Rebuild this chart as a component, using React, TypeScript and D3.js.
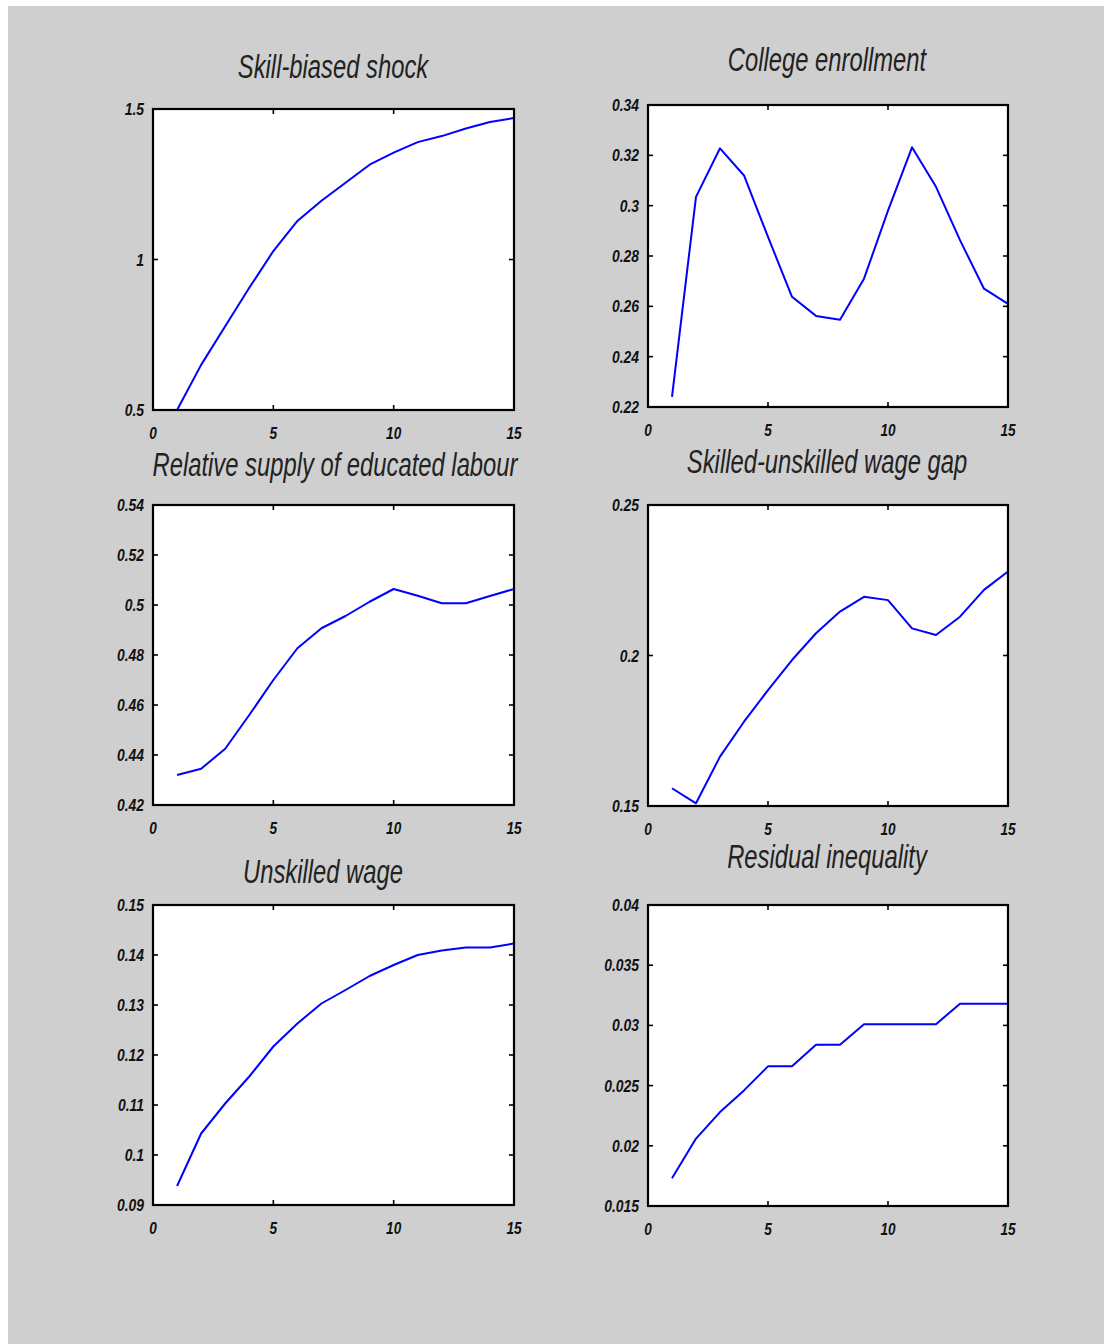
import React from "react";
import * as d3 from "d3";

const periods = [1, 2, 3, 4, 5, 6, 7, 8, 9, 10, 11, 12, 13, 14, 15];
const xTicks = [0, 5, 10, 15];

const skillShock = [0.5, 0.65, 0.778, 0.906, 1.028, 1.128, 1.195, 1.255, 1.315, 1.355, 1.39, 1.41, 1.435, 1.457, 1.47];
const collegeEnrollment = [0.224, 0.3035, 0.3228, 0.312, 0.2876, 0.2638, 0.2562, 0.2547, 0.271, 0.298, 0.3232, 0.3075, 0.2863, 0.267, 0.261];
const relativeSupply = [0.432, 0.4345, 0.4425, 0.456, 0.47, 0.4827, 0.4907, 0.4956, 0.5013, 0.5064, 0.5037, 0.5007, 0.5007, 0.5036, 0.5064];
const wageGap = [0.1559, 0.1509, 0.1664, 0.178, 0.1885, 0.1985, 0.2074, 0.2146, 0.2195, 0.2184, 0.209, 0.2068, 0.2129, 0.2218, 0.2279];
const unskilledWage = [0.0938, 0.1043, 0.1103, 0.1157, 0.1217, 0.1263, 0.1303, 0.133, 0.1358, 0.138, 0.14, 0.1409, 0.1415, 0.1415, 0.1423];
const residualInequality = [0.0173, 0.0206, 0.0228, 0.0246, 0.0266, 0.0266, 0.0284, 0.0284, 0.0301, 0.0301, 0.0301, 0.0301, 0.0318, 0.0318, 0.0318];

const titles = [
  "Skill-biased shock",
  "College enrollment",
  "Relative supply of educated labour",
  "Skilled-unskilled wage gap",
  "Unskilled wage",
  "Residual inequality",
];
const series = [skillShock, collegeEnrollment, relativeSupply, wageGap, unskilledWage, residualInequality];
const yTickValues = [
  [0.5, 1, 1.5],
  [0.22, 0.24, 0.26, 0.28, 0.3, 0.32, 0.34],
  [0.42, 0.44, 0.46, 0.48, 0.5, 0.52, 0.54],
  [0.15, 0.2, 0.25],
  [0.09, 0.1, 0.11, 0.12, 0.13, 0.14, 0.15],
  [0.015, 0.02, 0.025, 0.03, 0.035, 0.04],
];

// layout (page coordinates)
const boxes = [
  { l: 153, r: 514, t: 109, b: 410, tx: 333, ty: 67 },
  { l: 648, r: 1008, t: 105, b: 407, tx: 827, ty: 60 },
  { l: 153, r: 514, t: 505, b: 805, tx: 335, ty: 465 },
  { l: 648, r: 1008, t: 505, b: 806, tx: 827, ty: 462 },
  { l: 153, r: 514, t: 905, b: 1205, tx: 323, ty: 872 },
  { l: 648, r: 1008, t: 905, b: 1206, tx: 827, ty: 857 },
];

const OFFX = 8;
const OFFY = 6;
const fmt = (v: number) => String(+v.toFixed(3));
const FONT = "Liberation Sans, Arial, sans-serif";

function Panel({ idx }: { idx: number }) {
  const bx = boxes[idx];
  const l = bx.l - OFFX, r = bx.r - OFFX, t = bx.t - OFFY, b = bx.b - OFFY;
  const yt = yTickValues[idx];
  const x = d3.scaleLinear().domain([0, 15]).range([l, r]);
  const y = d3.scaleLinear().domain([yt[0], yt[yt.length - 1]]).range([b, t]);
  const line = d3
    .line<number>()
    .x((_, i) => x(periods[i]))
    .y((d) => y(d));
  const tl = 5;
  return (
    <g>
      <rect x={l} y={t} width={r - l} height={b - t} fill="#fff" />
      <path d={line(series[idx]) || ""} fill="none" stroke="#0000ff" strokeWidth={2} strokeLinejoin="round" />
      <rect x={l} y={t} width={r - l} height={b - t} fill="none" stroke="#000" strokeWidth={2.2} />
      {xTicks.map((v) => (
        <g key={"x" + v}>
          <line x1={x(v)} x2={x(v)} y1={b} y2={b - tl} stroke="#000" strokeWidth={1.6} />
          <line x1={x(v)} x2={x(v)} y1={t} y2={t + tl} stroke="#000" strokeWidth={1.6} />
          <g transform={`translate(${x(v)},${b + 29}) scale(0.8,1)`}>
            <text textAnchor="middle" fontFamily={FONT} fontStyle="italic" fontWeight="bold" fontSize={17} fill="#111">
              {v}
            </text>
          </g>
        </g>
      ))}
      {yt.map((v) => (
        <g key={"y" + v}>
          <line x1={l} x2={l + tl} y1={y(v)} y2={y(v)} stroke="#000" strokeWidth={1.6} />
          <line x1={r} x2={r - tl} y1={y(v)} y2={y(v)} stroke="#000" strokeWidth={1.6} />
          <g transform={`translate(${l - 9},${y(v) + 6}) scale(0.82,1)`}>
            <text textAnchor="end" fontFamily={FONT} fontStyle="italic" fontWeight="bold" fontSize={17} fill="#111">
              {fmt(v)}
            </text>
          </g>
        </g>
      ))}
      <g transform={`translate(${bx.tx - OFFX},${bx.ty - OFFY + 11}) scale(0.7,1)`}>
        <text textAnchor="middle" fontFamily={FONT} fontStyle="italic" fontSize={34} fill="#222">
          {titles[idx]}
        </text>
      </g>
    </g>
  );
}

export default function App() {
  return (
    <svg
      width={1096}
      height={1338}
      style={{ position: "absolute", left: 8, top: 6, display: "block" }}
    >
      <rect x={0} y={0} width={1096} height={1338} fill="#cfcfcf" />
      {boxes.map((_, i) => (
        <Panel key={i} idx={i} />
      ))}
    </svg>
  );
}
